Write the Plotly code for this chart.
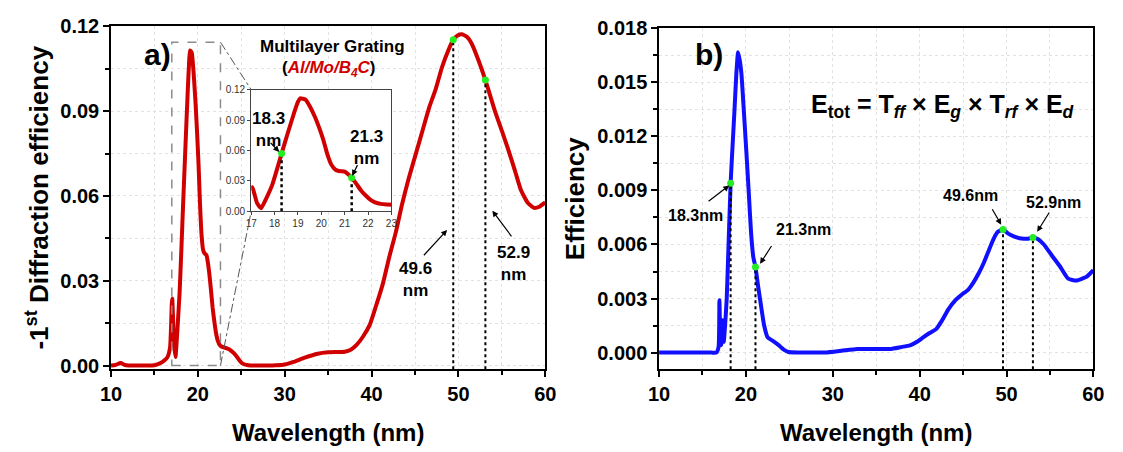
import plotly.graph_objects as go

W, H = 1123, 452

# ---------------- data ----------------
red_x = [10, 10.5, 11.1, 11.6, 12, 13, 14, 15, 15.7, 16.2, 16.5, 16.8, 17.0, 17.05, 17.15, 17.25, 17.42,
         17.63, 17.9, 18.1, 18.3, 18.55, 18.82, 19.0, 19.1, 19.2, 19.31, 19.5, 19.73, 19.9, 20.08, 20.25,
         20.43, 20.6, 20.71, 20.85, 21.0, 21.15, 21.3, 21.5, 21.7, 21.9, 22.12, 22.3, 22.54, 22.8, 23.05,
         23.6, 24.0, 24.4, 24.8, 25.1, 25.8, 27, 28, 29, 30, 31, 32.3, 33.8, 35, 36.1, 36.9, 37.6, 38.3,
         39, 39.8, 40.5, 41.3, 42, 42.8, 43.5, 44.3, 45.1, 45.9, 46.6, 47.4, 48.1, 48.9, 49.4, 49.9, 50.4,
         51, 51.5, 52.3, 53.1, 53.6, 54.2, 55, 55.7, 56.5, 57.2, 58, 58.7, 59.3, 60]
red_y = [0, 0.0002, 0.0009, 0.0002, 0, 0, 0, 0.0001, 0.0009, 0.002, 0.003, 0.0065, 0.022, 0.0237, 0.016,
         0.008, 0.003, 0.012, 0.026, 0.041, 0.057, 0.076, 0.096, 0.108, 0.1115, 0.1112, 0.1105, 0.104,
         0.093, 0.083, 0.071, 0.057, 0.046, 0.041, 0.040, 0.0395, 0.039, 0.0365, 0.033, 0.027, 0.0205,
         0.0155, 0.011, 0.0088, 0.0072, 0.0066, 0.0064, 0.0058, 0.0048, 0.0035, 0.0018, 0.0008, 0.0001,
         0, 0, 0.0001, 0.0004, 0.0013, 0.0028, 0.0042, 0.0047, 0.0048, 0.0049, 0.0056, 0.0074, 0.0102,
         0.0145, 0.021, 0.029, 0.038, 0.0473, 0.057, 0.0665, 0.075, 0.0835, 0.091, 0.098, 0.1055, 0.112,
         0.1153, 0.1168, 0.1172, 0.1162, 0.114, 0.108, 0.101, 0.096, 0.090, 0.083, 0.0767, 0.069, 0.062,
         0.0575, 0.0558, 0.0562, 0.0577]

blue_x = [10, 12, 14, 16, 16.6, 16.85, 16.95, 17.05, 17.15, 17.3, 17.45, 17.6, 17.79, 18.0, 18.24, 18.5,
          18.7, 18.9, 19.1, 19.3, 19.48, 19.75, 20.05, 20.35, 20.6, 20.85, 21.1, 21.4, 21.74, 22.1, 22.5,
          23.06, 23.8, 24.4, 24.9, 26, 28, 29.1, 31, 32.8, 35, 36.6, 37.8, 38.9, 39.7, 40.4, 41.2, 41.9,
          42.6, 43.3, 44.1, 44.8, 45.6, 46.2, 46.8, 47.4, 47.9, 48.5, 49.0, 49.6, 50.2, 50.9, 51.5, 52.0,
          52.5, 53.04, 53.6, 54.3, 55.2, 56.2, 57.1, 58.05, 58.7, 59.2, 60]
blue_y = [0, 0, 0, 0, 0, 0.0003, 0.0029, 0.0008, 0.0004, 0.0018, 0.0006, 0.0015, 0.003, 0.006, 0.0094,
          0.0118, 0.0136, 0.0155, 0.01667, 0.0162, 0.0155, 0.0135, 0.01115, 0.0087, 0.0066, 0.0053,
          0.00475, 0.0037, 0.0026, 0.0015, 0.00084, 0.00066, 0.0004, 0.00015, 0.00003, 0, 0, 0, 0.0001,
          0.0002, 0.0002, 0.0002, 0.0003, 0.0004, 0.0006, 0.00084, 0.0011, 0.0013, 0.0018, 0.0024, 0.0029,
          0.0032, 0.0035, 0.0039, 0.0044, 0.005, 0.0056, 0.0063, 0.0067, 0.00683, 0.0066, 0.00644,
          0.00635, 0.00632, 0.00632, 0.00639, 0.0063, 0.006, 0.0054, 0.00475, 0.0041, 0.0040, 0.0041,
          0.0042, 0.00457]

red_mark_x = [49.4, 53.1]
red_mark_y = [0.1153, 0.101]
inset_mark_x = [18.3, 21.3]
inset_mark_y = [0.057, 0.033]
blue_mark_x = [18.24, 21.1, 49.6, 53.04]
blue_mark_y = [0.0094, 0.00475, 0.00683, 0.00639]

x_ticks = [10, 20, 30, 40, 50, 60]
left_y_ticks = [0.00, 0.03, 0.06, 0.09, 0.12]
left_y_labels = ["0.00", "0.03", "0.06", "0.09", "0.12"]
right_y_ticks = [0.000, 0.003, 0.006, 0.009, 0.012, 0.015, 0.018]
right_y_labels = ["0.000", "0.003", "0.006", "0.009", "0.012", "0.015", "0.018"]
inset_x_ticks = [17, 18, 19, 20, 21, 22, 23]
inset_y_ticks = [0.00, 0.03, 0.06, 0.09, 0.12]
inset_y_labels = ["0.00", "0.03", "0.06", "0.09", "0.12"]

RED = "#d10000"
BLUE = "#1010ff"
GREEN = "#22ee22"
FONT = "Arial, Liberation Sans, sans-serif"

# ---------------- layout geometry (pixels) ----------------
L_px = (102, 545, 16, 373)   # x0, x1, ytop, ybottom
R_px = (661, 1104, 18, 373)
I_px = (245, 388, 82, 208.5)
L_xr, L_yr = [10, 60], [-0.00126, 0.12]
R_xr, R_yr = [10, 60], [-0.00092, 0.018]
I_xr, I_yr = [17, 23], [0, 0.12]


def dom(px):
    return [px[0] / W, px[1] / W], [1 - px[3] / H, 1 - px[2] / H]


L_dx, L_dy = dom(L_px)
R_dx, R_dy = dom(R_px)
I_dx, I_dy = dom(I_px)


def to_paper(x, y, xr, yr, dx, dy):
    px = dx[0] + (x - xr[0]) / (xr[1] - xr[0]) * (dx[1] - dx[0])
    py = dy[0] + (y - yr[0]) / (yr[1] - yr[0]) * (dy[1] - dy[0])
    return px, py


fig = go.Figure()
LW = 4

# left main curve
fig.add_trace(go.Scatter(x=red_x, y=red_y, mode="lines", line=dict(color=RED, width=LW, shape="spline", smoothing=0.5),
                         xaxis="x", yaxis="y", hoverinfo="skip"))
for mx, my in zip(red_mark_x, red_mark_y):
    fig.add_trace(go.Scatter(x=[mx, mx], y=[L_yr[0], my], mode="lines", line=dict(color="black", width=2, dash="dot"),
                             xaxis="x", yaxis="y"))
fig.add_trace(go.Scatter(x=red_mark_x, y=red_mark_y, mode="markers", marker=dict(color=GREEN, size=7),
                         xaxis="x", yaxis="y"))

# right main curve
fig.add_trace(go.Scatter(x=blue_x, y=blue_y, mode="lines", line=dict(color=BLUE, width=LW, shape="spline", smoothing=0.5),
                         xaxis="x2", yaxis="y2"))
for mx, my in zip(blue_mark_x, blue_mark_y):
    fig.add_trace(go.Scatter(x=[mx, mx], y=[R_yr[0], my], mode="lines", line=dict(color="black", width=2, dash="dot"),
                             xaxis="x2", yaxis="y2"))
fig.add_trace(go.Scatter(x=blue_mark_x, y=blue_mark_y, mode="markers", marker=dict(color=GREEN, size=7),
                         xaxis="x2", yaxis="y2"))

# inset curve
ins_x = [x for x in red_x if 17 <= x <= 23.05]
ins_y = [y for x, y in zip(red_x, red_y) if 17 <= x <= 23.05]
fig.add_trace(go.Scatter(x=ins_x, y=ins_y, mode="lines", line=dict(color=RED, width=LW, shape="spline", smoothing=0.5),
                         xaxis="x3", yaxis="y3"))
for mx, my in zip(inset_mark_x, inset_mark_y):
    fig.add_trace(go.Scatter(x=[mx, mx], y=[0, my], mode="lines", line=dict(color="black", width=2.5, dash="dot"),
                             xaxis="x3", yaxis="y3"))
fig.add_trace(go.Scatter(x=inset_mark_x, y=inset_mark_y, mode="markers", marker=dict(color=GREEN, size=7),
                         xaxis="x3", yaxis="y3"))

tickfont = dict(family=FONT, size=20, color="black", weight="bold")
xtitlefont = dict(family=FONT, size=24, color="black", weight="bold")
ytitlefont = dict(family=FONT, size=26, color="black", weight="bold")
grid = dict(showgrid=True, gridcolor="#e2e2e2", griddash="dot", gridwidth=1)


def xaxis(dx, rng, anchor, title):
    return dict(domain=dx, range=rng, anchor=anchor, tickvals=x_ticks, ticks="outside", ticklen=6, tickwidth=1.5,
                tickcolor="black", showline=True, linecolor="black", linewidth=1.5, mirror=True,
                tickfont=tickfont, zeroline=False, **grid,
                minor=dict(dtick=5, ticks="outside", ticklen=4, tickwidth=1.5, tickcolor="black", **grid),
                title=dict(text=title, font=xtitlefont, standoff=20))


def yaxis(dy, rng, anchor, vals, labels, minor_dt, title, standoff):
    return dict(domain=dy, range=rng, anchor=anchor, tickvals=vals, ticktext=labels, ticks="outside", ticklen=6,
                tickwidth=1.5, tickcolor="black", showline=True, linecolor="black", linewidth=1.5, mirror=True,
                tickfont=tickfont, zeroline=False, **grid,
                minor=dict(dtick=minor_dt, tick0=0, ticks="outside", ticklen=4, tickwidth=1.5, tickcolor="black", **grid),
                title=dict(text=title, font=ytitlefont, standoff=standoff))


inset_font = dict(family=FONT, size=10, color="#333")
fig.update_layout(
    width=W, height=H, margin=dict(l=0, r=0, t=0, b=0), showlegend=False,
    paper_bgcolor="white", plot_bgcolor="white",
    xaxis=xaxis(L_dx, L_xr, "y", "Wavelength (nm)"),
    yaxis=yaxis(L_dy, L_yr, "x", left_y_ticks, left_y_labels, 0.015, "-1<sup>st</sup> Diffraction efficiency", 4),
    xaxis2=xaxis(R_dx, R_xr, "y2", "Wavelength (nm)"),
    yaxis2=yaxis(R_dy, R_yr, "x2", right_y_ticks, right_y_labels, 0.0015, "Efficiency", 5),
    xaxis3=dict(domain=I_dx, range=I_xr, anchor="y3", tickvals=inset_x_ticks, ticks="outside", ticklen=3,
                tickcolor="#444", showline=True, linecolor="#444", linewidth=1, mirror=True, showgrid=False,
                zeroline=False, tickfont=inset_font),
    yaxis3=dict(domain=I_dy, range=I_yr, anchor="x3", tickvals=inset_y_ticks, ticktext=inset_y_labels,
                ticks="outside", ticklen=3, tickcolor="#444", showline=True, linecolor="#444", linewidth=1,
                mirror=True, showgrid=False, zeroline=False, tickfont=inset_font),
)

# dashed selection rectangle
fig.add_shape(type="rect", xref="x", yref="y", x0=17, x1=22.6, y0=0, y1=0.1144,
              line=dict(color="#8c8c8c", width=1.5, dash="dash"))
# connectors to inset
rx0, ry0 = to_paper(22.6, 0.1144, L_xr, L_yr, L_dx, L_dy)
rx1, ry1 = to_paper(22.6, 0, L_xr, L_yr, L_dx, L_dy)
fig.add_shape(type="line", xref="paper", yref="paper", x0=rx0, y0=ry0, x1=I_dx[0], y1=I_dy[1],
              line=dict(color="#555", width=1, dash="dashdot"))
fig.add_shape(type="line", xref="paper", yref="paper", x0=rx1, y0=ry1, x1=I_dx[0], y1=I_dy[0],
              line=dict(color="#555", width=1, dash="dashdot"))

ann = []


def text(x, y, s, xref, yref, size, **kw):
    ann.append(dict(x=x, y=y, xref=xref, yref=yref, text=s, showarrow=False,
                    font=dict(family=FONT, size=size, color="black", weight="bold"), **kw))


def arrow(x, y, ax, ay, xref, yref):
    ann.append(dict(x=x, y=y, ax=ax, ay=ay, xref=xref, yref=yref, axref=xref, ayref=yref, text="",
                    showarrow=True, arrowhead=2, arrowsize=1, arrowwidth=1.2, arrowcolor="black"))


# left panel
text(15.3, 0.110, "a)", "x", "y", 30)
text(35.5, 0.1129, "Multilayer Grating", "x", "y", 17)
text(35.1, 0.1050, "(<span style='color:%s'><i>Al/Mo/B<sub>4</sub>C</i></span>)" % RED, "x", "y", 17)
text(45.0, 0.0305, "49.6<br>nm", "x", "y", 17)
arrow(48.69, 0.048, 45.86, 0.0385, "x", "y")
text(56.3, 0.0362, "52.9<br>nm", "x", "y", 17)
arrow(53.9, 0.0548, 56.23, 0.0452, "x", "y")
# inset
text(17.73, 0.0811, "18.3<br>nm", "x3", "y3", 17)
arrow(18.2, 0.0586, 17.77, 0.0690, "x3", "y3")
text(21.94, 0.0631, "21.3<br>nm", "x3", "y3", 17)
arrow(21.32, 0.0349, 21.58, 0.0470, "x3", "y3")
# right panel
text(15.76, 0.01657, "b)", "x2", "y2", 30)
text(42.6, 0.0137, "E<sub>tot</sub> = T<sub><i>ff</i></sub> × E<sub><i>g</i></sub> × T<sub><i>rf</i></sub> × E<sub><i>d</i></sub>",
     "x2", "y2", 25)
text(14.2, 0.0076, "18.3nm", "x2", "y2", 16)
arrow(18.09, 0.00928, 15.53, 0.00834, "x2", "y2")
text(26.6, 0.00681, "21.3nm", "x2", "y2", 16)
arrow(21.63, 0.00493, 23.06, 0.0060, "x2", "y2")
text(45.8, 0.0087, "49.6nm", "x2", "y2", 16)
arrow(49.39, 0.0071, 48.26, 0.00804, "x2", "y2")
text(55.4, 0.00834, "52.9nm", "x2", "y2", 16)
arrow(53.53, 0.0067, 55.03, 0.00786, "x2", "y2")

fig.update_layout(annotations=ann)
fig.write_html("out.html")
